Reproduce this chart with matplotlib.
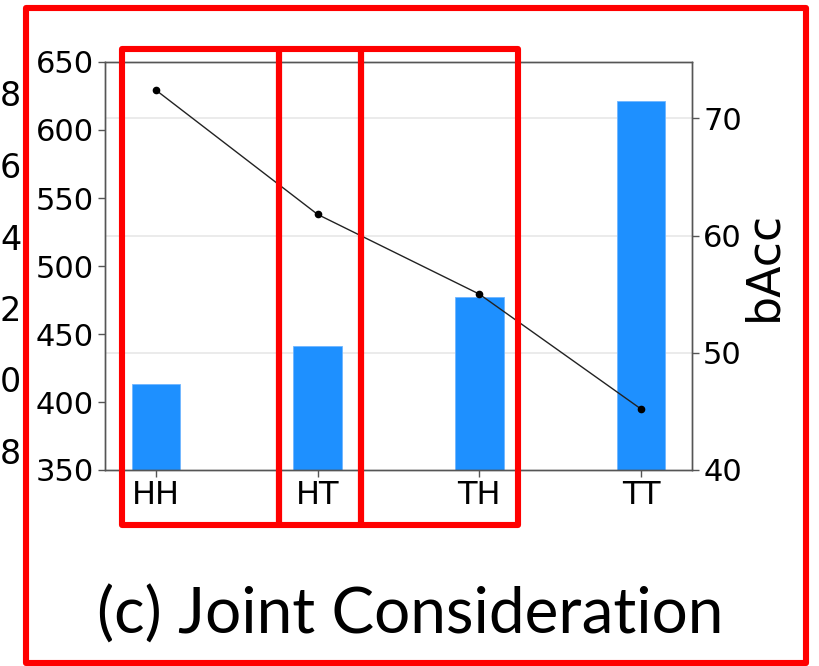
import matplotlib
matplotlib.use("Agg")
import matplotlib.pyplot as plt
from matplotlib.patches import Rectangle
from matplotlib.transforms import blended_transform_factory

plt.rcParams["font.family"] = ["DejaVu Sans"]

# data
categories = ["HH", "HT", "TH", "TT"]
bar_values = [413, 441, 477, 621]
bacc = [72.4, 61.8, 55.0, 45.2]
left_ticks = [350, 400, 450, 500, 550, 600, 650]
right_ticks = [40, 50, 60, 70]
# digits of a neighbouring panel's axis cut off at the left edge
stray_digits = ["8", "6", "4", "2", "0", "8"]

W, H = 820, 666
fig = plt.figure(figsize=(W / 100, H / 100), dpi=100)
ax1 = fig.add_axes([105 / W, 1 - 470 / H, (692 - 105) / W, (470 - 62) / H])
ax2 = ax1.twinx()

x = list(range(len(categories)))
ax1.bar(x, bar_values, width=0.3, color="#1E90FF", edgecolor="#6fb6ff", linewidth=0.6, zorder=2)
ax1.set_ylim(350, 650)
ax1.set_yticks(left_ticks)
ax1.set_xticks(x)
ax1.set_xticklabels(categories)

ax2.plot(x, bacc, color="#222222", lw=1.0, marker="o", ms=4.5, mfc="black", mec="black")
ax2.set_ylim(40, 74.8)
ax2.set_yticks(right_ticks)
ax2.set_ylabel("bAcc", fontsize=33, labelpad=0)

# grid follows the right axis ticks but sits behind the bars
trans = blended_transform_factory(ax1.transAxes, ax2.transData)
for t in right_ticks[1:]:
    ax1.plot([0, 1], [t, t], transform=trans, color="#e8e8e8", lw=1.2, zorder=0)

for ax in (ax1, ax2):
    for s in ax.spines.values():
        s.set_color("#555555")
        s.set_linewidth(1.0)
    ax.tick_params(labelsize=22, length=5, width=1, color="#555555", pad=3)
ax1.tick_params(axis="x", labelsize=23, pad=2)

# stray tick digits at the left border
for i, d in enumerate(stray_digits):
    fig.text(0, 1 - (97 + 71.5 * i) / H, d, fontsize=24, ha="left", va="center")

fig.text(0.5, 1 - 634 / H, "(c) Joint Consideration", fontsize=46,
         family=["Lato", "DejaVu Sans"], ha="center", va="baseline")

# red annotation boxes
red = "#ff0000"
lw = 4.4


def box(x0, y0, x1, y1):
    r = Rectangle((x0 / W, 1 - y1 / H), (x1 - x0) / W, (y1 - y0) / H,
                  transform=fig.transFigure, fill=False, edgecolor=red,
                  linewidth=lw, joinstyle="round", zorder=10)
    fig.add_artist(r)


box(26.5, 8, 806, 663)
box(122.5, 49, 279.3, 525.3)
box(279.3, 49, 360.7, 525.3)
box(360.7, 49, 517.7, 525.3)

fig.savefig("out.png", dpi=100)
